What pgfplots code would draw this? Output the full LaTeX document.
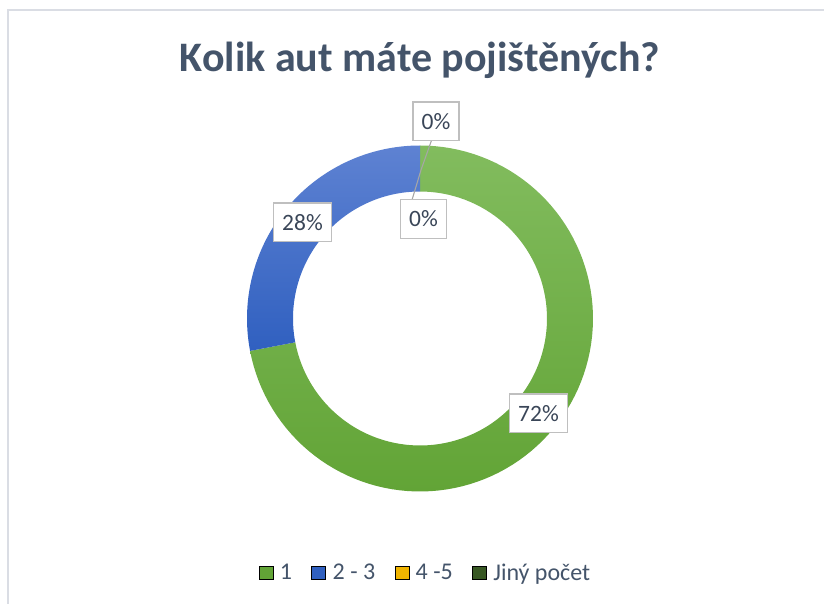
\documentclass[border=0pt]{standalone}
\usepackage{fontspec}
\setmainfont{Carlito}
\usepackage{pgfplots}
\pgfplotsset{compat=1.18}
\usepackage{pgfplotstable}

\definecolor{titlec}{HTML}{44546A}
\definecolor{labc}{HTML}{3A4658}
\definecolor{framec}{HTML}{DADDE4}
\definecolor{boxc}{HTML}{BFBFBF}
\definecolor{leadc}{HTML}{A6A6A6}
% segment colours (top / bottom of the gradient)
\definecolor{top0}{RGB}{130,188,94}
\definecolor{bot0}{RGB}{98,164,54}
\definecolor{top1}{RGB}{94,130,210}
\definecolor{bot1}{RGB}{48,96,192}
\definecolor{top2}{RGB}{255,200,40}
\definecolor{bot2}{RGB}{240,180,0}
\definecolor{top3}{RGB}{72,108,48}
\definecolor{bot3}{RGB}{56,88,36}

\pgfplotstableread[col sep=comma]{
label,value
1,72
2 - 3,28
4 -5,0
Jiný počet,0
}\donut

\begin{document}
\begin{tikzpicture}
\begin{axis}[
  scale only axis, width=618pt, height=452.25pt,
  xmin=0, xmax=824, ymin=0, ymax=603,
  hide axis, clip=false,
  legend columns=4,
  legend style={at={(axis cs:425.5,30)}, anchor=center, draw=none, fill=none,
    font=\fontsize{18}{20}\selectfont, text=titlec,
    nodes={inner sep=1.5pt},
    /tikz/every odd column/.append style={column sep=3.5pt},
    /tikz/every even column/.append style={column sep=13pt}},
  legend image code/.code={\fill[#1] (0pt,-5pt) rectangle (10.5pt,5pt);},
]
% frame
\draw[framec, line width=1.2pt] (axis cs:8,-10) -- (axis cs:8,593) -- (axis cs:840,593);

\def\cum{0}
\pgfplotsforeachungrouped \i in {0,1,2,3}{%
  \pgfplotstablegetelem{\i}{value}\of{\donut}%
  \let\v\pgfplotsretval
  \pgfmathsetmacro{\a}{90-3.6*\cum}%
  \pgfmathsetmacro{\d}{-3.6*\v}%
  \pgfmathsetmacro{\b}{\a+\d}%
  \pgfmathsetmacro{\cum}{\cum+\v}%
  \ifdim\v pt>0pt
  \edef\temp{\noexpand\addplot[forget plot, draw=none, top color=top\i, bottom color=bot\i,
      domain=0:2.01, samples=202]
    ({420+ifthenelse(x<1.005,173,127)*cos(ifthenelse(x<1.005,(\a)+(\d)*min(x,1),(\b)-(\d)*min(max(x-1.01,0),1)))},
     {284.5+ifthenelse(x<1.005,173,127)*sin(ifthenelse(x<1.005,(\a)+(\d)*min(x,1),(\b)-(\d)*min(max(x-1.01,0),1)))});}%
  \temp
  \fi
}

% legend
\addlegendimage{fill=bot0}\addlegendentry{1}
\addlegendimage{fill=bot1}\addlegendentry{2 - 3}
\addlegendimage{fill=bot2}\addlegendentry{4 -5}
\addlegendimage{fill=bot3}\addlegendentry{Jiný počet}

% leader line of the 0% labels
\draw[leadc, line width=0.8pt] (axis cs:432,464) -- (axis cs:421,433) -- (axis cs:412,403);

% data labels
\tikzset{lab/.style={draw=boxc, line width=1.1pt, fill=white, text=labc,
  font=\fontsize{17.6}{20}\selectfont, inner xsep=6.5pt, inner ysep=8.7pt,
  text height=11.5pt, text depth=0pt}}
\node[lab] at (axis cs:538.5,189.5) {72\%};
\node[lab] at (axis cs:302.5,380.5) {28\%};
\node[lab] at (axis cs:436,481.5) {0\%};
\node[lab] at (axis cs:423.5,384) {0\%};

% title
\node[anchor=base, text=titlec, font=\bfseries\fontsize{31.5}{38}\selectfont]
  at (axis cs:420,531) {Kolik aut máte pojištěných?};
\end{axis}
\pgfresetboundingbox
\path[use as bounding box] (0,0) rectangle (618pt,452.25pt);
\end{tikzpicture}
\end{document}
